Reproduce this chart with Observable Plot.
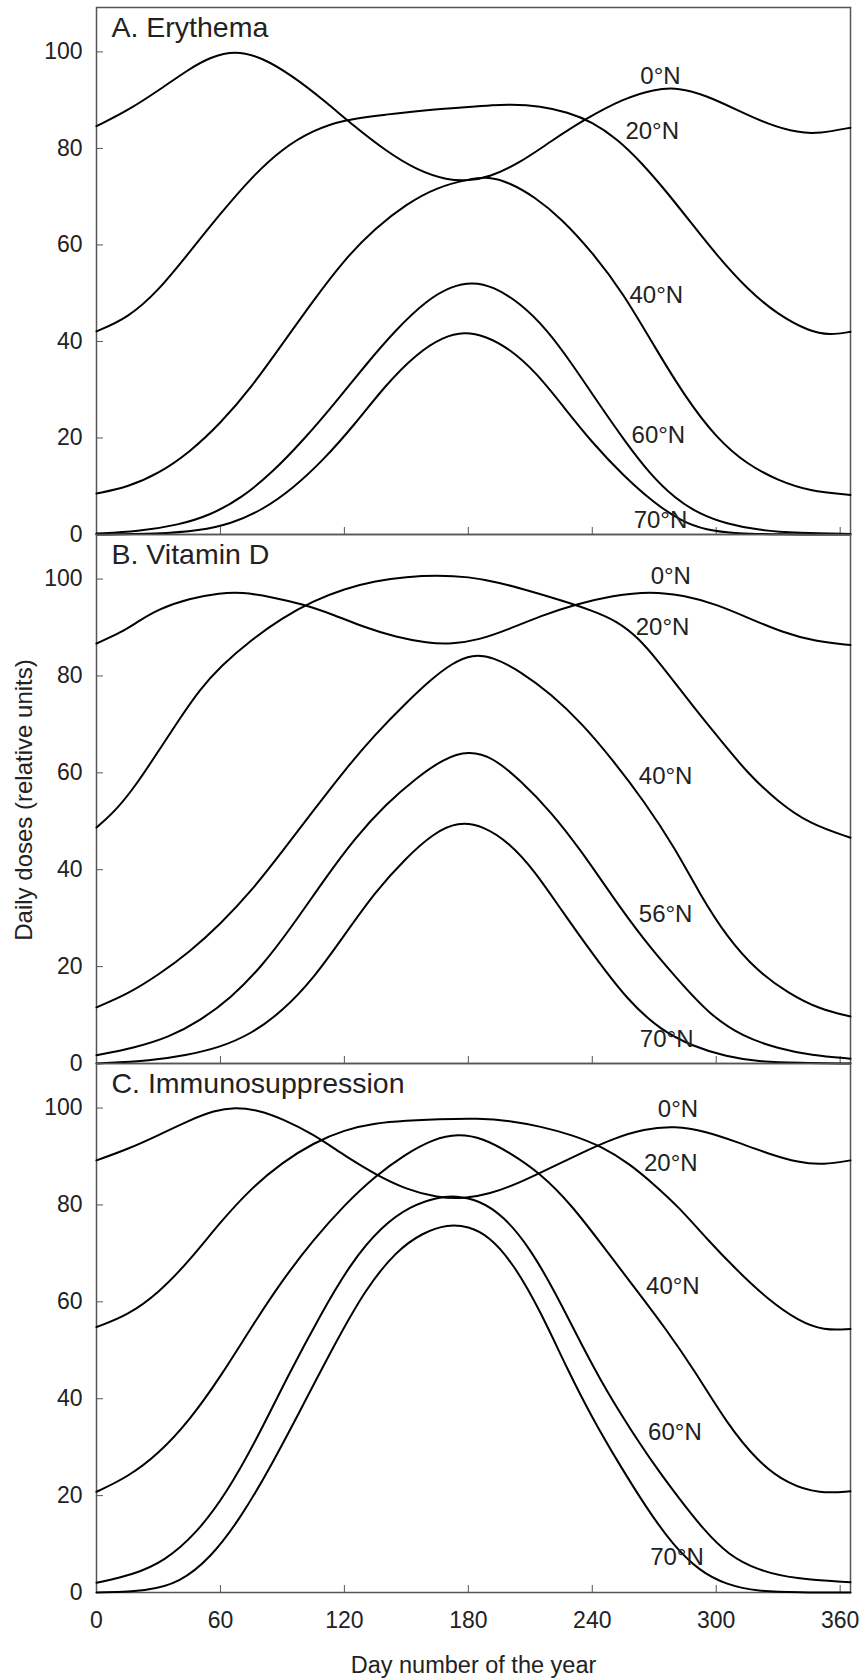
<!DOCTYPE html>
<html>
<head>
<meta charset="utf-8">
<script src="https://cdn.jsdelivr.net/npm/d3@7"></script>
<script src="https://cdn.jsdelivr.net/npm/@observablehq/plot@0.6"></script>
<style>
  html, body { margin: 0; padding: 0; background: #fff; }
  #wrap { position: relative; width: 864px; height: 1680px; font-family: "Liberation Sans", Arial, sans-serif; color: #222; }
  #wrap svg { position: absolute; left: 0; background: transparent; overflow: visible; }
  #ylab { position: absolute; left: 24px; top: 800px; transform: translate(-50%, -50%) rotate(-90deg);
          white-space: nowrap; font-size: 24px; color: #222; }
</style>
</head>
<body>
<div id="wrap"><div id="ylab">Daily doses (relative units)</div></div>
<script>
// ---------- axes ----------
const xTicks = [0, 60, 120, 180, 240, 300, 360];
const yTicks = [0, 20, 40, 60, 80, 100];

// ---------- A. Erythema  [day, relative dose] ----------
const erythema0N = [[0,84.6],[15,87.8],[30,92],[45,96.5],[55,98.9],[67,100.3],[80,98.9],[95,95],[110,90],[125,84.5],[140,79.5],[155,75.5],[170,73.4],[180,73.3],[190,74],[205,77],[220,81.5],[237,86.2],[255,90.3],[270,92.3],[282,92.6],[295,91],[310,88],[325,85],[340,83.2],[350,83.1],[365,84.3]];
const erythema20N = [[0,42.1],[15,44.8],[30,50.5],[45,58.5],[60,66.5],[75,74],[90,80],[105,83.8],[120,86],[140,87],[160,88],[180,88.6],[200,89.2],[215,88.8],[228,87.5],[240,85.5],[252,82],[264,77],[276,71],[288,64.5],[300,58],[315,50.8],[330,45.5],[345,42.1],[355,41.3],[365,42]];
const erythema40N = [[0,8.5],[15,9.8],[30,12.6],[45,17],[60,23],[75,30.5],[90,39.5],[105,48.5],[120,57],[135,63.5],[150,68.5],[165,72],[180,73.6],[190,74.2],[200,72.9],[212,70],[225,65.5],[240,58.5],[255,50],[270,39],[285,28.5],[300,20],[315,14.5],[330,11.2],[345,9],[365,8.2]];
const erythema60N = [[0,0.2],[20,0.6],[40,2],[55,4],[70,7.5],[85,12.8],[100,19.5],[115,27],[130,35],[145,42.5],[160,48.6],[172,51.5],[182,52.3],[192,51.4],[205,48],[218,42.5],[230,35.5],[243,27.2],[256,19.2],[268,12.5],[280,7.5],[292,4.2],[305,2.2],[320,0.9],[340,0.3],[365,0.1]];
const erythema70N = [[0,0],[30,0.1],[50,0.8],[65,2.2],[80,5],[95,9.5],[110,15.5],[125,22.8],[140,31],[155,37.5],[168,41],[178,42],[188,41.2],[200,38.5],[213,33.5],[226,26.5],[240,19],[255,12.2],[270,6.5],[283,2.8],[295,0.9],[310,0.2],[330,0],[365,0]];
const erythemaLabels = ["0°N", "20°N", "40°N", "60°N", "70°N"];
const erythemaLabelDay = [273, 269, 271, 272, 273];
const erythemaLabelValue = [95, 83.6, 49.6, 20.5, 3];

// ---------- B. Vitamin D ----------
const vitaminD0N = [[0,86.7],[12,89],[20,91.2],[30,93.8],[45,96],[60,97.1],[70,97.3],[85,96.3],[100,94.8],[115,92.6],[130,90],[145,88],[160,86.8],[172,86.6],[185,87.4],[200,89.7],[215,92.4],[232,94.8],[250,96.6],[268,97.5],[285,96.6],[300,94.8],[316,91.9],[332,89],[348,87.1],[365,86.4]];
const vitaminD20N = [[0,48.7],[10,52.5],[20,58],[30,64.5],[40,71],[50,77.2],[60,82],[75,87.5],[90,92],[105,95.5],[120,98],[135,99.6],[150,100.5],[165,100.8],[180,100.5],[195,99.3],[210,97.5],[225,95.6],[240,93.5],[252,91.3],[262,88],[272,83],[282,77.5],[292,72],[302,66.8],[315,60],[330,54],[345,49.5],[365,46.6]];
const vitaminD40N = [[0,11.6],[15,14.3],[30,18.3],[45,23],[60,28.8],[75,35.6],[90,43.8],[105,52.2],[120,60.5],[135,68],[150,74.5],[162,79.3],[172,82.6],[182,84.5],[192,83.9],[205,81],[220,76.3],[235,70.2],[250,62.6],[265,54.2],[280,44.5],[292,35],[305,26.2],[320,19],[335,14.5],[350,11.2],[365,9.7]];
const vitaminD56N = [[0,1.7],[18,3.2],[35,5.4],[50,8.8],[65,13.5],[80,20],[95,28.5],[110,37.8],[125,46.5],[140,53.5],[155,59],[168,62.9],[180,64.6],[192,63.2],[205,58.5],[220,52],[235,43.7],[250,34.3],[265,25.5],[281,17.5],[297,10],[313,5.5],[330,3.1],[346,1.7],[365,1]];
const vitaminD70N = [[0,0],[27,0.6],[43,1.7],[59,3.2],[75,6.1],[90,10.8],[105,17.5],[120,26.5],[135,35.5],[150,42.5],[163,47.5],[175,49.9],[187,49.1],[200,45.5],[212,39.8],[225,31.7],[241,22.1],[257,13.1],[273,6.9],[289,3.5],[305,1.4],[320,0.4],[340,0.1],[365,0]];
const vitaminDLabels = ["0°N", "20°N", "40°N", "56°N", "70°N"];
const vitaminDLabelDay = [278, 274, 275.5, 275.5, 276];
const vitaminDLabelValue = [100.5, 90, 59.3, 30.7, 4.9];

// ---------- C. Immunosuppression ----------
const immuno0N = [[0,89.2],[15,91.5],[30,94.4],[45,97.5],[57,99.5],[67,100.2],[78,99.6],[90,97.8],[105,94.6],[120,90.2],[135,86.3],[150,83.2],[165,81.5],[178,81.3],[190,82.2],[205,84.6],[220,87.7],[235,90.8],[250,93.7],[265,95.7],[280,96.3],[295,95.2],[310,93],[325,90.6],[340,88.7],[352,88.3],[365,89.2]];
const immuno20N = [[0,54.8],[15,57.2],[30,61.8],[45,68.5],[60,76.5],[75,83.5],[90,88.8],[105,92.8],[120,95.5],[135,96.9],[150,97.4],[165,97.7],[185,97.9],[200,97.4],[215,96.2],[230,94.5],[245,92],[258,88.5],[270,84.2],[282,79.5],[295,73.2],[310,66.5],[325,60.5],[340,56],[352,54.1],[365,54.4]];
const immuno40N = [[0,20.8],[15,23.8],[30,28.6],[45,35.5],[60,44.5],[75,54.8],[90,64.5],[105,72.8],[120,80],[135,86],[150,90.6],[163,93.6],[175,94.7],[187,93.8],[200,90.8],[215,86.5],[230,80],[245,71.6],[260,63.2],[275,54.8],[290,45.5],[305,35],[320,27],[335,22.3],[350,20.4],[365,20.9]];
const immuno60N = [[0,2],[18,3.7],[33,6.5],[48,12],[63,20.5],[78,32],[93,45],[108,57],[123,68],[138,75.6],[152,79.8],[165,81.6],[174,81.9],[185,81],[197,77.8],[210,71],[222,62],[235,51],[247,41.5],[258,34],[270,26.3],[282,19.4],[294,12.9],[306,7.7],[320,4.6],[338,2.8],[365,2.1]];
const immuno70N = [[0,0],[25,0.3],[40,2],[55,7],[70,15.5],[85,26.5],[100,38.7],[115,51],[130,62.5],[145,70.5],[158,74.3],[170,76],[180,75.6],[190,73.6],[202,67.8],[215,58],[228,46],[240,36],[253,26.5],[266,17.6],[279,9.8],[292,4.4],[305,1.6],[320,0.2],[340,0],[365,0]];
const immunoLabels = ["0°N", "20°N", "40°N", "60°N", "70°N"];
const immunoLabelDay = [281.5, 278, 279, 280, 281];
const immunoLabelValue = [99.7, 88.6, 63.3, 33.1, 7.2];

// ---------- build ----------
const wrap = document.getElementById("wrap");
const FONT = '"Liberation Sans", Arial, sans-serif';

function panel({title, series, labels, labelDay, labelValue, top, height, marginTop, marginBottom, bottom}) {
  const data = series.flatMap((pts, i) => pts.map(([d, v]) => ({lat: labels[i], d, v})));
  const labelData = labels.map((t, i) => ({t, d: labelDay[i], v: labelValue[i]}));
  const marks = [
    Plot.frame({stroke: "#555", strokeWidth: 1.5}),
    Plot.axisY({ticks: yTicks, tickSize: -7, tickPadding: 21, fontSize: 23, stroke: "#555", fill: "#222", label: null}),
    Plot.axisX({ticks: xTicks, tickSize: -7, tickPadding: 26, fontSize: 23, stroke: "#555", fill: "#222", label: null,
                tickFormat: bottom ? (d => String(d)) : (() => "")}),
    Plot.line(data, {x: "d", y: "v", z: "lat", curve: "basis", stroke: "#000", strokeWidth: 2}),
    Plot.text(labelData, {x: "d", y: "v", text: "t", fontSize: 24, fill: "#222"}),
    Plot.text([title], {frameAnchor: "top-left", dx: 15, dy: 29, lineAnchor: "bottom", textAnchor: "start", fontSize: 28.5, fill: "#222"})
  ];
  if (bottom) {
    marks.push(Plot.text(["Day number of the year"], {frameAnchor: "bottom", dy: 64, lineAnchor: "top", fontSize: 23.5, fill: "#222"}));
  }
  const svg = Plot.plot({
    width: 864, height,
    marginLeft: 96, marginRight: 14, marginTop, marginBottom,
    style: {fontFamily: FONT, fontSize: "23px", color: "#222", background: "transparent", overflow: "visible"},
    x: {domain: [0, 365]},
    y: {domain: [0, 109.2]},
    marks
  });
  svg.style.top = top + "px";
  wrap.appendChild(svg);
}

panel({title: "A. Erythema", series: [erythema0N, erythema20N, erythema40N, erythema60N, erythema70N],
       labels: erythemaLabels, labelDay: erythemaLabelDay, labelValue: erythemaLabelValue,
       top: 0, height: 536, marginTop: 7, marginBottom: 2, bottom: false});
panel({title: "B. Vitamin D", series: [vitaminD0N, vitaminD20N, vitaminD40N, vitaminD56N, vitaminD70N],
       labels: vitaminDLabels, labelDay: vitaminDLabelDay, labelValue: vitaminDLabelValue,
       top: 532, height: 533, marginTop: 2, marginBottom: 2, bottom: false});
panel({title: "C. Immunosuppression", series: [immuno0N, immuno20N, immuno40N, immuno60N, immuno70N],
       labels: immunoLabels, labelDay: immunoLabelDay, labelValue: immunoLabelValue,
       top: 1061, height: 619, marginTop: 2, marginBottom: 88, bottom: true});
</script>
</body>
</html>
